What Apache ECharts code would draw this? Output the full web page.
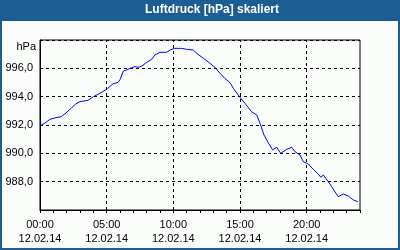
<!DOCTYPE html>
<html><head><meta charset="utf-8">
<script src="https://cdn.jsdelivr.net/npm/echarts@6/dist/echarts.min.js"></script>
<style>html,body{margin:0;padding:0;background:#fbfdfb}#c{width:400px;height:250px}</style>
</head><body><div id="c"></div>
<script>
const times = ["0:00","0:18","0:45","1:07","1:36","1:57","2:21","2:42","3:00","3:36","4:00","4:30","5:03","5:28","5:51","6:00","6:15","6:30","6:45","7:07","7:22","7:38","8:00","8:23","8:37","9:00","9:30","9:45","10:04","10:38","11:00","11:30","11:45","12:15","12:45","13:07","13:30","13:52","14:15","14:30","15:00","15:22","15:52","16:15","16:30","16:48","17:07","17:27","17:45","18:03","18:30","18:53","19:07","19:30","19:45","20:07","20:30","20:52","21:04","21:15","21:37","21:53","22:07","22:22","22:45","23:07","23:30","23:50"];
const pressure = [991.95,992.1,992.4,992.5,992.59,992.85,993.2,993.5,993.65,993.74,994.0,994.24,994.56,994.9,995.01,995.2,995.81,995.88,996.0,996.12,996.07,996.16,996.42,996.64,996.94,997.13,997.13,997.29,997.41,997.41,997.34,997.29,997.06,996.71,996.35,996.07,995.65,995.29,994.99,994.59,993.95,993.53,992.94,992.71,992.12,991.29,990.75,990.24,990.43,990.0,990.28,990.43,990.12,989.88,989.41,989.25,988.87,988.54,988.31,988.47,988.0,987.64,987.29,986.94,987.13,986.99,986.71,986.59];
const gridHours = [5,10,15,20];
const dateLabel = "12.02.14";
const title = "Luftdruck [hPa] skaliert";
const unit = "hPa";

function toHours(t){const p=t.split(':');return +p[0] + (+p[1])/60;}
const data = times.map((t,i)=>[toHours(t), pressure[i]]);

const chart = echarts.init(document.getElementById('c'), null, {renderer:'canvas'});
const font = 'Liberation Sans';
chart.setOption({
  animation:false,
  backgroundColor:'#fbfdfb',
  title:{text:title,left:145,top:3,padding:0,
    textStyle:{color:'#fff',fontFamily:font,fontWeight:'bold',fontSize:12,lineHeight:14}},
  graphic:[
    {type:'rect',shape:{x:0,y:0,width:400,height:21},style:{fill:'#1c5e93'},z:-1},
    {type:'rect',shape:{x:0,y:0,width:2,height:250},style:{fill:'#1c5e93'}},
    {type:'rect',shape:{x:398,y:0,width:2,height:250},style:{fill:'#1c5e93'}},
    {type:'rect',shape:{x:0,y:248,width:400,height:2},style:{fill:'#1c5e93'}},
    {type:'text',x:36,y:47,style:{text:unit,fill:'#000',font:'11px "Liberation Sans"',textAlign:'right',textVerticalAlign:'middle'}}
  ],
  grid:{left:40,right:40,top:40,bottom:40,show:true,borderColor:'#000',borderWidth:1,backgroundColor:'transparent'},
  xAxis:{type:'value',min:0,max:24,interval:1,
    axisLine:{lineStyle:{color:'#000',width:1}},
    axisTick:{show:true,length:3,lineStyle:{color:'#000'}},
    splitLine:{show:false},
    axisLabel:{margin:8,color:'#000',fontFamily:font,fontSize:11,lineHeight:14,showMaxLabel:true,
      formatter:v=>(v%5===0&&v<24)?(String(v).padStart(2,'0')+':00\n'+dateLabel):''}},
  yAxis:{type:'value',min:986,max:998,interval:2,
    axisLine:{show:true,lineStyle:{color:'#000'}},
    axisTick:{show:false},
    splitLine:{show:true,lineStyle:{color:'#000',type:[3,3],width:1}},
    axisLabel:{margin:7,color:'#000',fontFamily:font,fontSize:11,
      formatter:v=>(v<=986||v>=998)?'':v.toFixed(1).replace('.',',')}},
  series:[{type:'line',data:data,symbol:'none',lineStyle:{color:'#0000ff',width:1},
    markLine:{silent:true,symbol:'none',label:{show:false},
      lineStyle:{color:'#000',type:[3,3],width:1},
      data:gridHours.map(h=>({xAxis:h}))}}]
});
</script></body></html>
